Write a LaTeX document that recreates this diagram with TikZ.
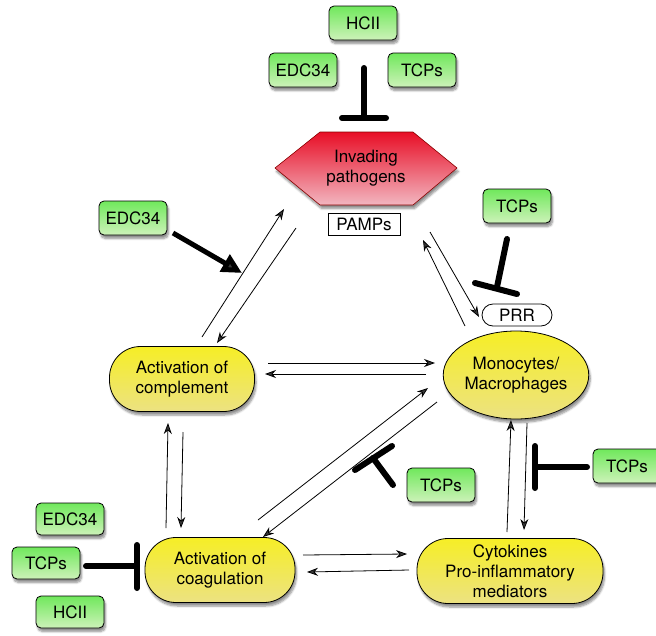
\documentclass[tikz,border=0pt]{standalone}
\usepackage{fontspec}
\setmainfont{TeX Gyre Heros}
\usetikzlibrary{arrows.meta,shadows.blur,shapes.geometric}
\definecolor{gtop}{RGB}{112,232,92}
\definecolor{gbot}{RGB}{205,242,185}
\definecolor{ytop}{RGB}{246,238,38}
\definecolor{ybot}{RGB}{236,226,130}
\definecolor{rtop}{RGB}{232,14,38}
\definecolor{rbot}{RGB}{242,182,192}
\begin{document}
\begin{tikzpicture}[x=1pt,y=-1pt,
  font=\fontsize{17}{20}\selectfont,
  shad/.style={blur shadow={shadow xshift=1.5pt,shadow yshift=-3.5pt,shadow blur steps=6,shadow opacity=45}},
  gbox/.style={shad,draw=black,line width=0.8pt,rounded corners=5pt,top color=gtop,bottom color=gbot,
    minimum width=68pt,minimum height=34pt,inner sep=2pt},
  ynode/.style={shad,draw=black,line width=0.8pt,top color=ytop,bottom color=ybot,align=center,inner sep=2pt},
  pill/.style={ynode,minimum height=65pt,rounded corners=31pt},
  arr/.style={line width=0.8pt,-{Stealth[length=11pt,width=8pt]}},
  inh/.style={line width=6pt,line cap=round},
  fat/.style={line width=5pt,-{Triangle[length=20pt,width=19pt]}}]
\useasboundingbox (0,0) rectangle (656,635);

% green boxes
\node[gbox] (hciiA) at (363,23) {HCII};
\node[gbox] (edcA) at (303,70) {EDC34};
\node[gbox] (tcpA) at (422,70) {TCPs};
\node[gbox] (edcB) at (133,218) {EDC34};
\node[gbox] (tcpB) at (517,206) {TCPs};
\node[gbox] (tcpC) at (441,485) {TCPs};
\node[gbox] (tcpD) at (627,466) {TCPs};
\node[gbox,minimum height=32pt] (edcC) at (70,519) {EDC34};
\node[gbox,minimum height=32pt] (tcpE) at (46,563) {TCPs};
\node[gbox,minimum height=32pt] (hciiB) at (70,612) {HCII};

% pathogens hexagon
\path[shad,draw=red!55!black,line width=0.6pt,top color=rtop,bottom color=rbot]
  (275,168) -- (320,132) -- (413,132) -- (457,168) -- (413,205) -- (320,205) -- cycle;
\node[align=center] (path) at (366,168) {Invading\\pathogens};
\node[draw,fill=white,line width=0.8pt,minimum width=72pt,minimum height=22pt,inner sep=1pt] (pamps) at (364,224) {PAMPs};

% main nodes
\node[pill,minimum width=145pt] (comp) at (182,379) {Activation of\\complement};
\node[ynode,ellipse,minimum width=144pt,minimum height=88pt,inner sep=0pt] (mono) at (516,375) {Monocytes/\\Macrophages};
\node[draw,fill=white,line width=0.8pt,rounded corners=11pt,minimum width=70pt,minimum height=22pt,inner sep=1pt] (prr) at (517,315) {PRR};
\node[pill,minimum width=150pt] (coag) at (220,570) {Activation of\\coagulation};
\node[pill,minimum width=186pt] (cyto) at (510,571) {Cytokines\\Pro-inflammatory\\mediators};

% coordinates
\coordinate (i1a) at (364,68);  \coordinate (i1b) at (364,117);
\coordinate (b1a) at (342,118); \coordinate (b1b) at (386,118);
\coordinate (ea) at (173,233);  \coordinate (eb) at (242,273);
\coordinate (cp1a) at (202,337); \coordinate (cp1b) at (284,209);
\coordinate (cp2a) at (296,228); \coordinate (cp2b) at (217,343);
\coordinate (pm1a) at (430,232); \coordinate (pm1b) at (479,317);
\coordinate (pm2a) at (465,326); \coordinate (pm2b) at (423,240);
\coordinate (i2a) at (507,239); \coordinate (i2b) at (497,287);
\coordinate (b2a) at (475,283); \coordinate (b2b) at (517,294);
\coordinate (cm1a) at (268,363); \coordinate (cm1b) at (435,363);
\coordinate (cm2a) at (426,374); \coordinate (cm2b) at (265,374);
\coordinate (gm1a) at (258,520); \coordinate (gm1b) at (428,388);
\coordinate (gm2a) at (437,402); \coordinate (gm2b) at (263,537);
\coordinate (i3a) at (393,485); \coordinate (i3b) at (373,458);
\coordinate (b3a) at (355,470); \coordinate (b3b) at (392,446);
\coordinate (cc1a) at (166,528); \coordinate (cc1b) at (168,423);
\coordinate (cc2a) at (183,432); \coordinate (cc2b) at (181,528);
\coordinate (gy1a) at (303,555); \coordinate (gy1b) at (407,554);
\coordinate (gy2a) at (409,570); \coordinate (gy2b) at (307,572);
\coordinate (ym1a) at (507,532); \coordinate (ym1b) at (511,420);
\coordinate (ym2a) at (527,423); \coordinate (ym2b) at (524,530);
\coordinate (i4a) at (587,467); \coordinate (i4b) at (535,467);
\coordinate (b4a) at (535,446); \coordinate (b4b) at (535,488);
\coordinate (i5a) at (86,566);  \coordinate (i5b) at (137,566);
\coordinate (b5a) at (137,545); \coordinate (b5b) at (137,588);

% inhibitors
\draw[inh] (i1a) -- (i1b); \draw[inh] (b1a) -- (b1b);
\draw[inh] (i2a) -- (i2b); \draw[inh] (b2a) -- (b2b);
\draw[inh] (i3a) -- (i3b); \draw[inh] (b3a) -- (b3b);
\draw[inh] (i4a) -- (i4b); \draw[inh] (b4a) -- (b4b);
\draw[inh] (i5a) -- (i5b); \draw[inh] (b5a) -- (b5b);

% activation arrow
\draw[fat] (ea) -- (eb);

% thin arrows
\draw[arr] (cp1a) -- (cp1b);
\draw[arr] (cp2a) -- (cp2b);
\draw[arr] (pm1a) -- (pm1b);
\draw[arr] (pm2a) -- (pm2b);
\draw[arr] (cm1a) -- (cm1b);
\draw[arr] (cm2a) -- (cm2b);
\draw[arr] (gm1a) -- (gm1b);
\draw[arr] (gm2a) -- (gm2b);
\draw[arr] (cc1a) -- (cc1b);
\draw[arr] (cc2a) -- (cc2b);
\draw[arr] (gy1a) -- (gy1b);
\draw[arr] (gy2a) -- (gy2b);
\draw[arr] (ym1a) -- (ym1b);
\draw[arr] (ym2a) -- (ym2b);
\end{tikzpicture}
\end{document}
